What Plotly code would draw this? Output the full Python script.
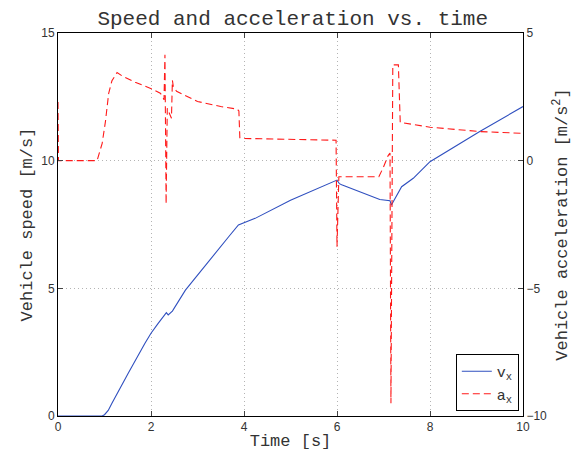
import plotly.graph_objects as go

# Speed data (m/s)
t_speed = [0.0, 0.95, 1.0, 1.08, 1.16, 1.3, 1.51, 1.87, 2.0, 2.15, 2.29, 2.33, 2.37, 2.46,
           2.74, 3.17, 3.67, 3.88, 4.0, 4.24, 5.0, 6.0, 6.05, 6.1, 6.92, 7.14, 7.17,
           7.39, 7.64, 8.0, 9.07, 10.0]
speed = [0.0, 0.0, 0.05, 0.22, 0.5, 0.95, 1.67, 2.85, 3.24, 3.62, 3.98, 4.05, 3.96, 4.11,
         4.93, 5.91, 7.02, 7.48, 7.57, 7.74, 8.45, 9.24, 9.1, 9.06, 8.48, 8.43, 8.26,
         8.98, 9.31, 9.96, 11.14, 12.12]

# Acceleration data (m/s^2)
t_acc = [0.0, 0.01, 0.84, 0.95, 1.02, 1.09, 1.16, 1.27, 1.38, 1.66, 2.02, 2.2, 2.25, 2.28,
         2.30, 2.325, 2.35, 2.40, 2.44, 2.46, 2.48, 2.55, 2.8, 3.0, 3.5, 3.85, 3.89,
         3.91, 4.0, 5.0, 5.98, 6.0, 6.04, 6.9, 7.0, 7.1, 7.14, 7.16, 7.2, 7.32, 7.36,
         8.0, 9.07, 10.0]
acc = [2.3, 0.0, 0.0, 0.68, 1.53, 2.64, 3.13, 3.45, 3.32, 3.07, 2.81, 2.64, 2.52, 2.38,
       4.15, -1.7, 2.05, 1.85, 1.66, 3.15, 2.9, 2.72, 2.48, 2.32, 2.12, 2.02, 1.95,
       0.9, 0.87, 0.83, 0.8, -3.37, -0.63, -0.63, -0.25, 0.2, 0.3, -9.5, 3.75, 3.75, 1.5,
       1.31, 1.14, 1.07]

x_ticks = [0, 2, 4, 6, 8, 10]
speed_ticks = [0, 5, 10, 15]
acc_ticks = [-10, -5, 0, 5]

mono = "Liberation Mono, Courier New, monospace"
sans = "Liberation Sans, Arial, sans-serif"
txt = "#333"
grid = dict(showgrid=True, gridcolor="#b4b4b4", griddash="1px,3px", gridwidth=1)

fig = go.Figure()
fig.add_trace(go.Scatter(x=t_speed, y=speed, mode="lines", name="v<sub>x</sub>",
                         line=dict(color="#2f4fbf", width=1.1)))
fig.add_trace(go.Scatter(x=t_acc, y=acc, mode="lines", name="a<sub>x</sub>", yaxis="y2",
                         line=dict(color="#ff1a1a", width=1.1, dash="7px,4px")))

fig.update_layout(
    width=574, height=454,
    margin=dict(l=58, r=51, t=33, b=38),
    paper_bgcolor="white", plot_bgcolor="white",
    title=dict(text="Speed and acceleration vs. time", x=0.51, xanchor="center",
               y=1 - 18 / 454, yanchor="middle",
               font=dict(family=mono, size=21, color=txt)),
    xaxis=dict(range=[0, 10], tickvals=x_ticks, ticks="inside", ticklen=5,
               showline=True, linecolor="black", linewidth=1, mirror="ticks",
               zeroline=False, automargin=False, **grid,
               tickfont=dict(family=sans, size=12, color=txt),
               title=dict(text="Time [s]", font=dict(family=mono, size=17, color=txt),
                          standoff=0)),
    yaxis=dict(range=[0, 15], tickvals=speed_ticks, ticks="inside", ticklen=5,
               showline=True, linecolor="black", linewidth=1,
               zeroline=False, automargin=False, **grid,
               tickfont=dict(family=sans, size=12, color=txt),
               title=dict(text="Vehicle speed [m/s]", font=dict(family=mono, size=17, color=txt),
                          standoff=4)),
    yaxis2=dict(range=[-10, 5], tickvals=acc_ticks, ticks="inside", ticklen=5,
                overlaying="y", side="right",
                showline=True, linecolor="black", linewidth=1,
                showgrid=False, zeroline=False, automargin=False,
                tickfont=dict(family=sans, size=12, color=txt),
                title=dict(text="Vehicle acceleration [m/s<sup>2</sup>]",
                           font=dict(family=mono, size=17, color=txt), standoff=9)),
    legend=dict(x=0.991, y=0.013, xanchor="right", yanchor="bottom",
                bgcolor="white", bordercolor="black", borderwidth=1,
                font=dict(family=mono, size=15, color=txt),
                tracegroupgap=0, itemwidth=30),
    showlegend=True,
)

fig.write_html("out.html")
